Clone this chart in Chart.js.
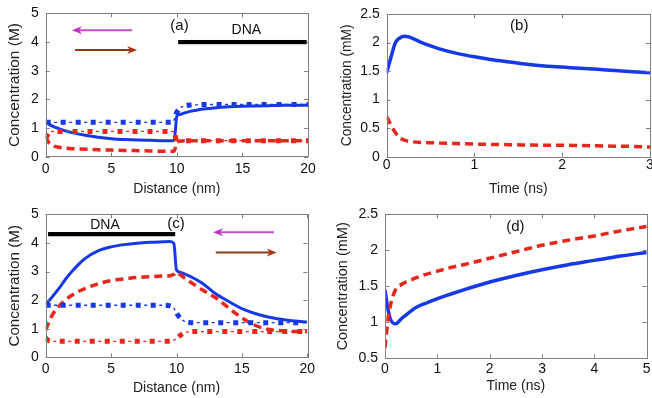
<!DOCTYPE html>
<html><head><meta charset="utf-8">
<script src="https://cdn.jsdelivr.net/npm/chart.js@4.4.1/dist/chart.umd.min.js"></script>
<style>
html,body{margin:0;padding:0;width:652px;height:398px;overflow:hidden;background:#fff;}
canvas{position:absolute;}
</style></head><body>
<canvas id="ca" width="326" height="199" style="left:0;top:0"></canvas>
<canvas id="cb" width="340" height="199" style="left:326px;top:0"></canvas>
<canvas id="cc" width="326" height="199" style="left:0;top:199px"></canvas>
<canvas id="cd" width="340" height="199" style="left:326px;top:199px"></canvas>
<script>
// ---------- Panel (a) ----------
const aX = [0,0.3,0.6,1,1.5,2,3,4,5,6,7,8,9,9.6,9.8,10,10.3,10.6,11,11.5,12,13,14,15,16,17,18,19,20];
const aBlueSolid = [1.2,1.12,1.05,0.98,0.9,0.84,0.75,0.68,0.63,0.6,0.58,0.57,0.56,0.56,0.57,1.42,1.48,1.53,1.58,1.62,1.66,1.71,1.74,1.76,1.77,1.78,1.79,1.79,1.8];
const aBlueDashDot = [1.2,1.2,1.2,1.2,1.2,1.2,1.2,1.2,1.2,1.2,1.2,1.2,1.2,1.2,1.3,1.55,1.72,1.77,1.8,1.81,1.82,1.82,1.82,1.82,1.82,1.82,1.82,1.82,1.82];
const aRedDashDot = [0.65,0.85,0.88,0.88,0.88,0.88,0.88,0.88,0.88,0.88,0.88,0.88,0.88,0.88,0.84,0.55,0.53,0.55,0.56,0.56,0.56,0.56,0.56,0.56,0.56,0.56,0.56,0.56,0.56];
const aRedDashed = [0.7,0.45,0.37,0.33,0.3,0.28,0.26,0.24,0.23,0.22,0.21,0.2,0.19,0.19,0.2,0.5,0.55,0.56,0.56,0.56,0.56,0.56,0.56,0.56,0.56,0.56,0.56,0.56,0.56];
const aXTicks = [0,5,10,15,20];
const aYTicks = [0,1,2,3,4,5];

// ---------- Panel (b) ----------
const bX = [0,0.05,0.1,0.15,0.2,0.25,0.3,0.4,0.5,0.6,0.8,1,1.2,1.4,1.6,1.8,2,2.2,2.4,2.6,2.8,3];
const bBlue = [1.47,1.75,2.0,2.08,2.11,2.1,2.07,2.0,1.94,1.89,1.81,1.75,1.7,1.66,1.62,1.59,1.57,1.55,1.53,1.51,1.49,1.47];
const bRed = [0.7,0.55,0.42,0.33,0.29,0.27,0.26,0.25,0.245,0.24,0.23,0.22,0.215,0.21,0.205,0.2,0.2,0.195,0.19,0.185,0.18,0.17];
const bXTicks = [0,1,2,3];
const bYTicks = [0,0.5,1,1.5,2,2.5];

// ---------- Panel (c) ----------
const cX = [0,0.3,0.6,1,1.5,2,2.5,3,4,5,6,7,8,9,9.5,9.8,10,10.3,10.6,11,11.5,12,13,14,15,16,17,18,19,20];
const cBlueSolid = [1.85,2.0,2.17,2.4,2.72,3.0,3.24,3.45,3.72,3.86,3.94,3.99,4.02,4.04,4.05,3.98,3.05,2.97,2.92,2.84,2.72,2.58,2.22,1.95,1.7,1.53,1.41,1.33,1.27,1.23];
const cRedDashed = [0.95,1.3,1.55,1.78,2.0,2.17,2.3,2.4,2.57,2.68,2.74,2.79,2.82,2.84,2.85,2.9,2.98,2.88,2.78,2.65,2.5,2.35,2.08,1.72,1.38,1.12,0.98,0.93,0.9,0.9];
const cBlueDashDot = [1.82,1.82,1.82,1.82,1.82,1.82,1.82,1.82,1.82,1.82,1.82,1.82,1.82,1.82,1.8,1.72,1.55,1.36,1.26,1.22,1.21,1.21,1.21,1.21,1.21,1.21,1.21,1.21,1.21,1.21];
const cRedDashDot = [0.67,0.57,0.56,0.56,0.56,0.56,0.56,0.56,0.56,0.56,0.56,0.56,0.56,0.56,0.57,0.6,0.66,0.77,0.85,0.89,0.9,0.9,0.9,0.9,0.9,0.9,0.9,0.9,0.9,0.9];
const cXTicks = [0,5,10,15,20];
const cYTicks = [0,1,2,3,4,5];

// ---------- Panel (d) ----------
const dX = [0,0.03,0.06,0.1,0.15,0.2,0.25,0.3,0.4,0.5,0.6,0.8,1,1.25,1.5,2,2.5,3,3.5,4,4.5,5];
const dBlue = [1.45,1.3,1.17,1.05,0.99,0.98,1.0,1.04,1.1,1.16,1.21,1.27,1.33,1.39,1.45,1.56,1.65,1.73,1.8,1.86,1.92,1.97];
const dRed = [0.65,0.85,1.05,1.22,1.36,1.45,1.5,1.52,1.56,1.59,1.62,1.67,1.71,1.76,1.8,1.89,1.98,2.07,2.14,2.2,2.27,2.33];
const dXTicks = [0,1,2,3,4,5];
const dYTicks = [0.5,1,1.5,2,2.5];

const BLUE = '#1638e6', RED = '#e8261c';
const FONT = '"Liberation Sans", Arial, Helvetica, sans-serif';

function pts(xs, ys){ return xs.map((x,i)=>({x:x, y:ys[i]})); }
function base(xs, ys){ return {data: pts(xs,ys), pointRadius:0, fill:false, cubicInterpolationMode:'monotone', tension:0.4}; }
function solid(xs, ys, c, w){ return Object.assign(base(xs,ys), {borderColor:c, borderWidth:w||3}); }
function dashed(xs, ys, c){ return Object.assign(base(xs,ys), {borderColor:c, borderWidth:3.5, borderDash:[8,5]}); }
function dashdot(xs, ys, c){
  return [
    Object.assign(base(xs,ys), {borderColor:c, borderWidth:1.3, borderDash:[3,12], borderDashOffset:6.5}),
    Object.assign(base(xs,ys), {borderColor:c, borderWidth:5, borderDash:[5,10]})
  ];
}

const decoPlugin = {
  id: 'deco',
  afterDatasetsDraw(chart, args, o) {
    const ctx = chart.ctx, ca = chart.chartArea, x = chart.scales.x, y = chart.scales.y;
    ctx.save();
    ctx.strokeStyle = '#808080'; ctx.lineWidth = 1;
    ctx.strokeRect(Math.round(ca.left)+0.5, Math.round(ca.top)+0.5, Math.round(ca.right-ca.left), Math.round(ca.bottom-ca.top));
    ctx.beginPath();
    x.ticks.forEach(t => { const px = Math.round(x.getPixelForValue(t.value))+0.5;
      ctx.moveTo(px, ca.bottom); ctx.lineTo(px, ca.bottom-4); ctx.moveTo(px, ca.top); ctx.lineTo(px, ca.top+4); });
    y.ticks.forEach(t => { const py = Math.round(y.getPixelForValue(t.value))+0.5;
      ctx.moveTo(ca.left, py); ctx.lineTo(ca.left+4, py); ctx.moveTo(ca.right, py); ctx.lineTo(ca.right-4, py); });
    ctx.stroke();
    (o.bars||[]).forEach(b => {
      const x1 = x.getPixelForValue(b[0]), x2 = x.getPixelForValue(b[1]), py = y.getPixelForValue(b[2]);
      ctx.fillStyle = '#000'; ctx.fillRect(x1, py-2, x2-x1, 4.2);
    });
    (o.arrows||[]).forEach(a => {
      const x1 = x.getPixelForValue(a.x1), x2 = x.getPixelForValue(a.x2), py = y.getPixelForValue(a.y);
      const dir = Math.sign(x2-x1), hl = 10, hw = 4;
      ctx.strokeStyle = a.color; ctx.lineWidth = 2;
      ctx.beginPath(); ctx.moveTo(x1, py); ctx.lineTo(x2-dir*hl*0.7, py); ctx.stroke();
      ctx.fillStyle = a.head; ctx.beginPath();
      ctx.moveTo(x2, py); ctx.lineTo(x2-dir*hl, py-hw); ctx.lineTo(x2-dir*hl*0.7, py); ctx.lineTo(x2-dir*hl, py+hw);
      ctx.closePath(); ctx.fill();
    });
    (o.texts||[]).forEach(t => {
      ctx.font = t.size + 'px ' + FONT; ctx.fillStyle = '#111'; ctx.textAlign = 'center'; ctx.textBaseline = 'middle';
      ctx.fillText(t.t, x.getPixelForValue(t.x), y.getPixelForValue(t.y));
    });
    ctx.restore();
  }
};

function make(id, c) {
  new Chart(document.getElementById(id), {
    type: 'line',
    data: { datasets: c.datasets },
    plugins: [decoPlugin],
    options: {
      responsive: false, animation: false, events: [],
      layout: { padding: { left: 0, top: c.pt, right: c.pr, bottom: 0 } },
      plugins: { legend: {display:false}, tooltip: {enabled:false}, deco: c.deco },
      scales: {
        x: {
          type: 'linear', min: c.xmin, max: c.xmax,
          afterBuildTicks: s => { s.ticks = c.xticks.map(v => ({value:v})); },
          afterFit: s => { s.height = c.xh; s.paddingLeft = 0; s.paddingRight = 0; },
          grid: {display:false, drawTicks:false}, border: {display:false},
          ticks: {padding: c.xtp, color:'#111', font:{family:FONT, size:14}, maxRotation:0, autoSkip:false, callback: v => String(v)},
          title: {display:true, text:c.xtitle, color:'#222', font:{family:FONT, size:14}, padding:{top:0, bottom:c.xtitlepad}}
        },
        y: {
          type: 'linear', min: c.ymin, max: c.ymax,
          afterBuildTicks: s => { s.ticks = c.yticks.map(v => ({value:v})); },
          afterFit: s => { s.width = c.yw; s.paddingTop = 0; s.paddingBottom = 0; },
          grid: {display:false, drawTicks:false}, border: {display:false},
          ticks: {padding: 7, color:'#111', font:{family:FONT, size:14}, autoSkip:false, callback: v => String(v)},
          title: {display:true, text:c.ytitle, color:'#222', font:{family:FONT, size:c.ytsize}, padding:{top:c.ytitlepad, bottom:0}}
        }
      }
    }
  });
}

make('ca', {
  datasets: [].concat(dashdot(aX, aRedDashDot, RED), [dashed(aX, aRedDashed, RED)], dashdot(aX, aBlueDashDot, BLUE), [solid(aX, aBlueSolid, BLUE, 3)]),
  xmin:0, xmax:20, xticks:aXTicks, ymin:0, ymax:5, yticks:aYTicks,
  pt:13.3, pr:18, xh:42.3, yw:45.7, xtp:4, xtitlepad:1.6,
  xtitle:'Distance (nm)', ytitle:'Concentration (M)', ytsize:15.5, ytitlepad:5.7,
  deco: {
    bars: [[10.1, 19.9, 4.0]],
    arrows: [{x1:6.6, x2:2.0, y:4.41, color:'#c04ec4', head:'#c02ec8'}, {x1:2.24, x2:6.97, y:3.72, color:'#8a3a1a', head:'#b0300f'}],
    texts: [{t:'(a)', x:10.2, y:4.55, size:15}, {t:'DNA', x:15.3, y:4.42, size:14}]
  }
});

make('cb', {
  datasets: [dashed(bX, bRed, RED), solid(bX, bBlue, BLUE, 3.5)],
  xmin:0, xmax:3, xticks:bXTicks, ymin:0, ymax:2.5, yticks:bYTicks,
  pt:14, pr:16, xh:42.3, yw:60.7, xtp:0, xtitlepad:1.1,
  xtitle:'Time (ns)', ytitle:'Concentration (mM)', ytsize:13.8, ytitlepad:12.7,
  deco: { texts: [{t:'(b)', x:1.51, y:2.29, size:15}] }
});

make('cc', {
  datasets: [].concat(dashdot(cX, cRedDashDot, RED), dashdot(cX, cBlueDashDot, BLUE), [dashed(cX, cRedDashed, RED)], [solid(cX, cBlueSolid, BLUE, 3)]),
  xmin:0, xmax:20, xticks:cXTicks, ymin:0, ymax:5, yticks:cYTicks,
  pt:15.3, pr:18.7, xh:40.7, yw:45.7, xtp:3.4, xtitlepad:1.6,
  xtitle:'Distance (nm)', ytitle:'Concentration (M)', ytsize:15.2, ytitlepad:5.9,
  deco: {
    bars: [[0.18, 9.9, 4.31]],
    arrows: [{x1:17.45, x2:12.8, y:4.37, color:'#c04ec4', head:'#c02ec8'}, {x1:13.0, x2:17.66, y:3.66, color:'#8a3a1a', head:'#b0300f'}],
    texts: [{t:'(c)', x:9.96, y:4.68, size:15}, {t:'DNA', x:4.53, y:4.63, size:14}]
  }
});

make('cd', {
  datasets: [dashed(dX, dRed, RED), solid(dX, dBlue, BLUE, 3.5)],
  xmin:0, xmax:5, xticks:dXTicks, ymin:0.5, ymax:2.5, yticks:dYTicks,
  pt:15.3, pr:19.3, xh:39.7, yw:59, xtp:2.4, xtitlepad:3.5,
  xtitle:'Time (ns)', ytitle:'Concentration (mM)', ytsize:14.5, ytitlepad:8.3,
  deco: { texts: [{t:'(d)', x:2.49, y:2.32, size:15}] }
});
</script>
</body></html>
